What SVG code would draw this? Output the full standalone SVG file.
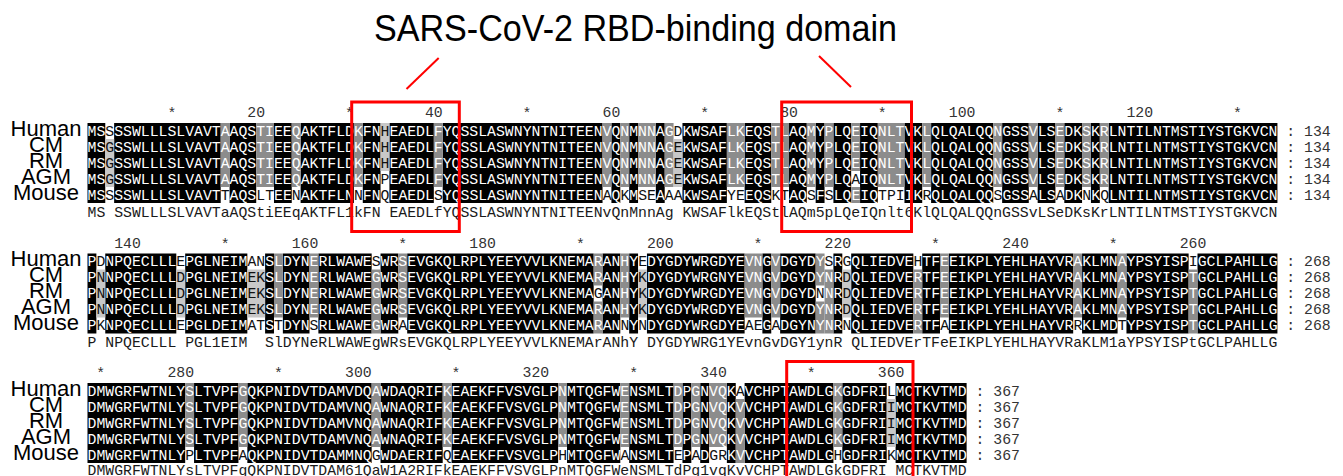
<svg xmlns="http://www.w3.org/2000/svg" width="1343" height="476" viewBox="0 0 1343 476">
<style>
.bk{fill:#000}.dg{fill:#8c8c8c}.lg{fill:#c8c8c8}
.s{font-family:"Liberation Mono","DejaVu Sans Mono",monospace;font-size:14.8px;fill:#fff}
.t{fill:#111}
.c{font-family:"Liberation Mono","DejaVu Sans Mono",monospace;font-size:14.8px;fill:#1a1a1a}
.n{font-family:"Liberation Mono","DejaVu Sans Mono",monospace;font-size:14.8px;fill:#333}
.ne{font-family:"Liberation Mono","DejaVu Sans Mono",monospace;font-size:14.8px;fill:#333;text-anchor:end}
.st{font-family:"Liberation Mono","DejaVu Sans Mono",monospace;font-size:14.8px;fill:#333;text-anchor:middle}
.lab{font-family:"Liberation Sans",Arial,sans-serif;font-size:22px;text-anchor:middle;fill:#000}
.box{fill:none;stroke:#f00;stroke-width:3}
.ln{stroke:#f00;stroke-width:2}
</style>
<g id="title"><text x="374" y="41" font-family="Liberation Sans, Arial, sans-serif" font-size="36" fill="#000" textLength="523" lengthAdjust="spacingAndGlyphs">SARS-CoV-2 RBD-binding domain</text></g>
<g id="block1">
<g class="bk">
<rect x="87.5" y="123" width="17.76" height="80"/><rect x="114.14" y="123" width="106.56" height="80"/><rect x="229.58" y="123" width="26.64" height="80"/><rect x="273.98" y="123" width="17.76" height="80"/><rect x="300.62" y="123" width="53.28" height="80"/><rect x="362.78" y="123" width="17.76" height="80"/><rect x="389.42" y="123" width="44.4" height="80"/><rect x="442.7" y="123" width="159.84" height="80"/><rect x="611.42" y="123" width="8.88" height="80"/><rect x="629.18" y="123" width="8.88" height="80"/><rect x="655.82" y="123" width="8.88" height="80"/><rect x="682.46" y="123" width="44.4" height="80"/><rect x="744.62" y="123" width="26.64" height="80"/><rect x="789.02" y="123" width="17.76" height="80"/><rect x="815.66" y="123" width="8.88" height="80"/><rect x="833.42" y="123" width="17.76" height="80"/><rect x="860.06" y="123" width="17.76" height="80"/><rect x="904.46" y="123" width="17.76" height="80"/><rect x="931.1" y="123" width="62.16" height="80"/><rect x="1002.14" y="123" width="26.64" height="80"/><rect x="1037.66" y="123" width="17.76" height="80"/><rect x="1064.3" y="123" width="17.76" height="80"/><rect x="1090.94" y="123" width="8.88" height="80"/><rect x="1108.7" y="123" width="168.72" height="80"/>
</g>
<g class="dg">
<rect x="220.7" y="123" width="8.88" height="64"/><rect x="256.22" y="123" width="17.76" height="64"/><rect x="291.74" y="123" width="8.88" height="64"/><rect x="353.9" y="123" width="8.88" height="64"/><rect x="433.82" y="123" width="8.88" height="64"/><rect x="602.54" y="123" width="8.88" height="64"/><rect x="620.3" y="123" width="8.88" height="64"/><rect x="638.06" y="123" width="17.76" height="64"/><rect x="664.7" y="123" width="8.88" height="64"/><rect x="726.86" y="123" width="17.76" height="64"/><rect x="771.26" y="123" width="17.76" height="64"/><rect x="806.78" y="123" width="8.88" height="64"/><rect x="824.54" y="123" width="8.88" height="64"/><rect x="877.82" y="123" width="26.64" height="64"/><rect x="922.22" y="123" width="8.88" height="64"/><rect x="993.26" y="123" width="8.88" height="64"/><rect x="1028.78" y="123" width="8.88" height="64"/><rect x="1055.42" y="123" width="8.88" height="64"/><rect x="1082.06" y="123" width="8.88" height="64"/><rect x="1099.82" y="123" width="8.88" height="64"/>
<rect x="851.18" y="123" width="8.88" height="48"/><rect x="851.18" y="187" width="8.88" height="16"/>
</g>
<g class="lg">
<rect x="105.26" y="139" width="8.88" height="48"/><rect x="673.58" y="139" width="8.88" height="48"/><rect x="380.54" y="123" width="8.88" height="48"/>
</g>
<g id="b1-ruler">
<text class="st" x="171.86" y="118">*</text><text class="st" x="349.46" y="118">*</text><text class="st" x="527.06" y="118">*</text><text class="st" x="704.66" y="118">*</text><text class="st" x="882.26" y="118">*</text><text class="st" x="1059.86" y="118">*</text><text class="st" x="1237.46" y="118">*</text>
<text class="ne" x="265.1" y="117">20</text><text class="ne" x="442.7" y="117">40</text><text class="ne" x="620.3" y="117">60</text><text class="ne" x="797.9" y="117">80</text><text class="ne" x="975.5" y="117">100</text><text class="ne" x="1153.1" y="117">120</text>
</g>
<g id="b1-names">
<text class="lab" x="46" y="135.7">Human</text><text class="lab" x="46" y="151.7">CM</text><text class="lab" x="46" y="167.7">RM</text><text class="lab" x="46" y="183.7">AGM</text><text class="lab" x="46" y="199.7">Mouse</text>
</g>
<g id="b1-seq">
<text class="s" x="87.5" y="135.8">MS<tspan class="t">S</tspan>SSWLLLSLVAVTAAQSTIEEQAKTFLDKFN<tspan class="t">H</tspan>EAEDLFYQSSLASWNYNTNITEENVQNMNNAG<tspan class="t">D</tspan>KWSAFLKEQSTLAQMYPLQEIQNLTVKLQLQALQQNGSSVLSEDKSKRLNTILNTMSTIYSTGKVCN</text>
<text class="s" x="87.5" y="151.8">MS<tspan class="t">G</tspan>SSWLLLSLVAVTAAQSTIEEQAKTFLDKFN<tspan class="t">H</tspan>EAEDLFYQSSLASWNYNTNITEENVQNMNNAG<tspan class="t">E</tspan>KWSAFLKEQSTLAQMYPLQEIQNLTVKLQLQALQQNGSSVLSEDKSKRLNTILNTMSTIYSTGKVCN</text>
<text class="s" x="87.5" y="167.8">MS<tspan class="t">G</tspan>SSWLLLSLVAVTAAQSTIEEQAKTFLDKFN<tspan class="t">H</tspan>EAEDLFYQSSLASWNYNTNITEENVQNMNNAG<tspan class="t">E</tspan>KWSAFLKEQSTLAQMYPLQEIQNLTVKLQLQALQQNGSSVLSEDKSKRLNTILNTMSTIYSTGKVCN</text>
<text class="s" x="87.5" y="183.8">MS<tspan class="t">G</tspan>SSWLLLSLVAVTAAQSTIEEQAKTFLDKFN<tspan class="t">P</tspan>EAEDLFYQSSLASWNYNTNITEENVQNMNNAG<tspan class="t">E</tspan>KWSAFLKEQSTLAQMYPLQ<tspan class="t">A</tspan>IQNLTVKLQLQALQQNGSSVLSEDKSKRLNTILNTMSTIYSTGKVCN</text>
<text class="s" x="87.5" y="199.8">MS<tspan class="t">S</tspan>SSWLLLSLVAVT<tspan class="t">T</tspan>AQS<tspan class="t">LT</tspan>EE<tspan class="t">N</tspan>AKTFLN<tspan class="t">N</tspan>FN<tspan class="t">Q</tspan>EAEDL<tspan class="t">S</tspan>YQSSLASWNYNTNITEEN<tspan class="t">A</tspan>Q<tspan class="t">K</tspan>M<tspan class="t">SE</tspan>A<tspan class="t">AA</tspan>KWSAF<tspan class="t">YE</tspan>EQS<tspan class="t">KT</tspan>AQ<tspan class="t">S</tspan>F<tspan class="t">S</tspan>LQEIQ<tspan class="t">TPI</tspan>IK<tspan class="t">R</tspan>QLQALQQ<tspan class="t">S</tspan>GSS<tspan class="t">A</tspan>LS<tspan class="t">A</tspan>DK<tspan class="t">N</tspan>K<tspan class="t">Q</tspan>LNTILNTMSTIYSTGKVCN</text>
<text class="c" x="87.5" y="216.5" xml:space="preserve">MS SSWLLLSLVAVTaAQStiEEqAKTFL1kFN EAEDLfYQSSLASWNYNTNITEENvQnMnnAg KWSAFlkEQStlAQm5pLQeIQnlt6KlQLQALQQnGSSvLSeDKsKrLNTILNTMSTIYSTGKVCN</text>
<text class="n" x="1286.3" y="135.8">: 134</text><text class="n" x="1286.3" y="151.8">: 134</text><text class="n" x="1286.3" y="167.8">: 134</text><text class="n" x="1286.3" y="183.8">: 134</text><text class="n" x="1286.3" y="199.8">: 134</text>
</g>
</g>
<g id="block2" transform="translate(0,130.5)">
<g class="bk">
<rect x="87.5" y="123" width="8.88" height="80"/><rect x="105.26" y="123" width="71.04" height="80"/><rect x="185.18" y="123" width="62.16" height="80"/><rect x="265.1" y="123" width="8.88" height="80"/><rect x="282.86" y="123" width="26.64" height="80"/><rect x="318.38" y="123" width="53.28" height="80"/><rect x="380.54" y="123" width="17.76" height="80"/><rect x="407.18" y="123" width="186.48" height="80"/><rect x="602.54" y="123" width="17.76" height="80"/><rect x="629.18" y="123" width="8.88" height="80"/><rect x="646.94" y="123" width="97.68" height="80"/><rect x="762.38" y="123" width="8.88" height="80"/><rect x="780.14" y="123" width="35.52" height="80"/><rect x="833.42" y="123" width="8.88" height="80"/><rect x="851.18" y="123" width="62.16" height="80"/><rect x="922.22" y="123" width="17.76" height="80"/><rect x="948.86" y="123" width="124.32" height="80"/><rect x="1082.06" y="123" width="35.52" height="80"/><rect x="1126.46" y="123" width="62.16" height="80"/><rect x="1197.5" y="123" width="79.92" height="80"/>
</g>
<g class="dg">
<rect x="273.98" y="123" width="8.88" height="64"/><rect x="309.5" y="123" width="8.88" height="64"/><rect x="398.3" y="123" width="8.88" height="64"/><rect x="620.3" y="123" width="8.88" height="64"/><rect x="744.62" y="123" width="17.76" height="64"/><rect x="771.26" y="123" width="8.88" height="64"/><rect x="939.98" y="123" width="8.88" height="64"/><rect x="1073.18" y="123" width="8.88" height="64"/><rect x="1117.58" y="123" width="8.88" height="64"/>
<rect x="371.66" y="139" width="8.88" height="64"/><rect x="824.54" y="139" width="8.88" height="64"/><rect x="913.34" y="139" width="8.88" height="64"/><rect x="1188.62" y="139" width="8.88" height="64"/>
<rect x="593.66" y="123" width="8.88" height="32"/><rect x="593.66" y="171" width="8.88" height="32"/><rect x="815.66" y="123" width="8.88" height="32"/><rect x="815.66" y="171" width="8.88" height="32"/>
</g>
<g class="lg">
<rect x="96.38" y="139" width="8.88" height="48"/><rect x="176.3" y="139" width="8.88" height="48"/><rect x="247.34" y="139" width="17.76" height="48"/><rect x="638.06" y="139" width="8.88" height="48"/><rect x="842.3" y="139" width="8.88" height="48"/>
</g>
<g id="b2-ruler">
<text class="st" x="225.14" y="118">*</text><text class="st" x="402.74" y="118">*</text><text class="st" x="580.34" y="118">*</text><text class="st" x="757.94" y="118">*</text><text class="st" x="935.54" y="118">*</text><text class="st" x="1113.14" y="118">*</text>
<text class="ne" x="140.78" y="117">140</text><text class="ne" x="318.38" y="117">160</text><text class="ne" x="495.98" y="117">180</text><text class="ne" x="673.58" y="117">200</text><text class="ne" x="851.18" y="117">220</text><text class="ne" x="1028.78" y="117">240</text><text class="ne" x="1206.38" y="117">260</text>
</g>
<g id="b2-names">
<text class="lab" x="46" y="135.7">Human</text><text class="lab" x="46" y="151.7">CM</text><text class="lab" x="46" y="167.7">RM</text><text class="lab" x="46" y="183.7">AGM</text><text class="lab" x="46" y="199.7">Mouse</text>
</g>
<g id="b2-seq">
<text class="s" x="87.5" y="135.8">P<tspan class="t">D</tspan>NPQECLLL<tspan class="t">E</tspan>PGLNEIM<tspan class="t">AN</tspan>SLDYNERLWAWE<tspan class="t">S</tspan>WRSEVGKQLRPLYEEYVVLKNEMARANHY<tspan class="t">E</tspan>DYGDYWRGDYEVNGVDGYDY<tspan class="t">S</tspan>R<tspan class="t">G</tspan>QLIEDVE<tspan class="t">H</tspan>TFEEIKPLYEHLHAYVRAKLMNAYPSYISP<tspan class="t">I</tspan>GCLPAHLLG</text>
<text class="s" x="87.5" y="151.8">P<tspan class="t">N</tspan>NPQECLLL<tspan class="t">D</tspan>PGLNEIM<tspan class="t">EK</tspan>SLDYNERLWAWEGWRSEVGKQLRPLYEEYVVLKNEMARANHY<tspan class="t">K</tspan>DYGDYWRGNYEVNGVDGYDYNR<tspan class="t">D</tspan>QLIEDVERTFEEIKPLYEHLHAYVRAKLMNAYPSYISPTGCLPAHLLG</text>
<text class="s" x="87.5" y="167.8">P<tspan class="t">N</tspan>NPQECLLL<tspan class="t">D</tspan>PGLNEIM<tspan class="t">EK</tspan>SLDYNERLWAWEGWRSEVGKQLRPLYEEYVVLKNEMA<tspan class="t">G</tspan>ANHY<tspan class="t">K</tspan>DYGDYWRGDYEVNGVDGYD<tspan class="t">N</tspan>NR<tspan class="t">D</tspan>QLIEDVERTFEEIKPLYEHLHAYVRAKLMNAYPSYISPTGCLPAHLLG</text>
<text class="s" x="87.5" y="183.8">P<tspan class="t">N</tspan>NPQECLLL<tspan class="t">D</tspan>PGLNEIM<tspan class="t">EK</tspan>SLDYNERLWAWEGWRSEVGKQLRPLYEEYVVLKNEMARANHY<tspan class="t">K</tspan>DYGDYWRGDYEVNGVDGYDYNR<tspan class="t">D</tspan>QLIEDVERTFEEIKPLYEHLHAYVRAKLMNAYPSYISPTGCLPAHLLG</text>
<text class="s" x="87.5" y="199.8">P<tspan class="t">K</tspan>NPQECLLL<tspan class="t">E</tspan>PGLDEIM<tspan class="t">AT</tspan>S<tspan class="t">T</tspan>DYN<tspan class="t">S</tspan>RLWAWEGWR<tspan class="t">A</tspan>EVGKQLRPLYEEYVVLKNEMARAN<tspan class="t">N</tspan>Y<tspan class="t">N</tspan>DYGDYWRGDYE<tspan class="t">AE</tspan>G<tspan class="t">A</tspan>DGYNYNR<tspan class="t">N</tspan>QLIEDVERTF<tspan class="t">A</tspan>EIKPLYEHLHAYVR<tspan class="t">R</tspan>KLMD<tspan class="t">T</tspan>YPSYISPTGCLPAHLLG</text>
<text class="c" x="87.5" y="216.5" xml:space="preserve">P NPQECLLL PGL1EIM  SlDYNeRLWAWEgWRsEVGKQLRPLYEEYVVLKNEMArANhY DYGDYWRG1YEvnGvDGY1ynR QLIEDVErTFeEIKPLYEHLHAYVRaKLM1aYPSYISPtGCLPAHLLG</text>
<text class="n" x="1286.3" y="135.8">: 268</text><text class="n" x="1286.3" y="151.8">: 268</text><text class="n" x="1286.3" y="167.8">: 268</text><text class="n" x="1286.3" y="183.8">: 268</text><text class="n" x="1286.3" y="199.8">: 268</text>
</g>
</g>
<g id="block3" transform="translate(0,260)">
<g class="bk">
<rect x="87.5" y="123" width="97.68" height="80"/><rect x="194.06" y="123" width="44.4" height="80"/><rect x="247.34" y="123" width="124.32" height="80"/><rect x="380.54" y="123" width="62.16" height="80"/><rect x="451.58" y="123" width="106.56" height="80"/><rect x="567.02" y="123" width="53.28" height="80"/><rect x="629.18" y="123" width="44.4" height="80"/><rect x="682.46" y="123" width="8.88" height="80"/><rect x="700.22" y="123" width="8.88" height="80"/><rect x="726.86" y="123" width="8.88" height="80"/><rect x="744.62" y="123" width="88.8" height="80"/><rect x="842.3" y="123" width="44.4" height="80"/><rect x="895.58" y="123" width="71.04" height="80"/>
</g>
<g class="dg">
<rect x="185.18" y="123" width="8.88" height="64"/><rect x="238.46" y="123" width="8.88" height="64"/><rect x="371.66" y="123" width="8.88" height="64"/><rect x="442.7" y="123" width="8.88" height="64"/><rect x="558.14" y="123" width="8.88" height="64"/><rect x="620.3" y="123" width="8.88" height="64"/><rect x="673.58" y="123" width="8.88" height="64"/><rect x="691.34" y="123" width="8.88" height="64"/><rect x="709.1" y="123" width="17.76" height="64"/><rect x="833.42" y="123" width="8.88" height="64"/>
<rect x="735.74" y="139" width="8.88" height="64"/>
</g>
<g class="lg"><rect x="886.7" y="139" width="8.88" height="48"/></g>
<g id="b3-ruler">
<text class="st" x="100.82" y="118">*</text><text class="st" x="278.42" y="118">*</text><text class="st" x="456.02" y="118">*</text><text class="st" x="633.62" y="118">*</text><text class="st" x="811.22" y="118">*</text>
<text class="ne" x="194.06" y="117">280</text><text class="ne" x="371.66" y="117">300</text><text class="ne" x="549.26" y="117">320</text><text class="ne" x="726.86" y="117">340</text><text class="ne" x="904.46" y="117">360</text>
</g>
<g id="b3-names">
<text class="lab" x="46" y="135.7">Human</text><text class="lab" x="46" y="151.7">CM</text><text class="lab" x="46" y="167.7">RM</text><text class="lab" x="46" y="183.7">AGM</text><text class="lab" x="46" y="199.7">Mouse</text>
</g>
<g id="b3-seq">
<text class="s" x="87.5" y="135.8">DMWGRFWTNLYSLTVPFGQKPNIDVTDAMVDQAWDAQRIFKEAEKFFVSVGLPNMTQGFWENSMLTDPGNVQK<tspan class="t">A</tspan>VCHPTAWDLGKGDFRI<tspan class="t">L</tspan>MCTKVTMD</text>
<text class="s" x="87.5" y="151.8">DMWGRFWTNLYSLTVPFGQKPNIDVTDAMVNQAWNAQRIFKEAEKFFVSVGLPNMTQGFWENSMLTDPGNVQKVVCHPTAWDLGKGDFRI<tspan class="t">I</tspan>MCTKVTMD</text>
<text class="s" x="87.5" y="167.8">DMWGRFWTNLYSLTVPFGQKPNIDVTDAMVNQAWNAQRIFKEAEKFFVSVGLPNMTQGFWENSMLTDPGNVQKVVCHPTAWDLGKGDFRI<tspan class="t">I</tspan>MCTKVTMD</text>
<text class="s" x="87.5" y="183.8">DMWGRFWTNLYSLTVPFGQKPNIDVTDAMVNQAWNAQRIFKEAEKFFVSVGLPNMTQGFWENSMLTDPGNVQKVVCHPTAWDLGKGDFRI<tspan class="t">I</tspan>MCTKVTMD</text>
<text class="s" x="87.5" y="199.8">DMWGRFWTNLY<tspan class="t">P</tspan>LTVPF<tspan class="t">A</tspan>QKPNIDVTDAMMNQ<tspan class="t">G</tspan>WDAERIF<tspan class="t">Q</tspan>EAEKFFVSVGLP<tspan class="t">H</tspan>MTQGFW<tspan class="t">A</tspan>NSMLT<tspan class="t">E</tspan>P<tspan class="t">A</tspan>D<tspan class="t">GR</tspan>KVVCHPTAWDLG<tspan class="t">H</tspan>GDFRI<tspan class="t">K</tspan>MCTKVTMD</text>
<text class="c" x="87.5" y="214.5" xml:space="preserve">DMWGRFWTNLYsLTVPFgQKPNIDVTDAM61QaW1A2RIFkEAEKFFVSVGLPnMTQGFWeNSMLTdPg1vqKvVCHPTAWDLGkGDFRI MCTKVTMD</text>
<text class="n" x="975.5" y="135.8">: 367</text><text class="n" x="975.5" y="151.8">: 367</text><text class="n" x="975.5" y="167.8">: 367</text><text class="n" x="975.5" y="183.8">: 367</text><text class="n" x="975.5" y="199.8">: 367</text>
</g>
</g>
<g id="highlights">
<rect class="box" x="351.7" y="102" width="107.6" height="129.5"/>
<rect class="box" x="781.7" y="102" width="129.8" height="129.5"/>
<rect class="box" x="786.7" y="361.5" width="126.3" height="130"/>
<line class="ln" x1="438.7" y1="58" x2="406.5" y2="89"/>
<line class="ln" x1="819" y1="56" x2="851" y2="87"/>
</g>
</svg>
